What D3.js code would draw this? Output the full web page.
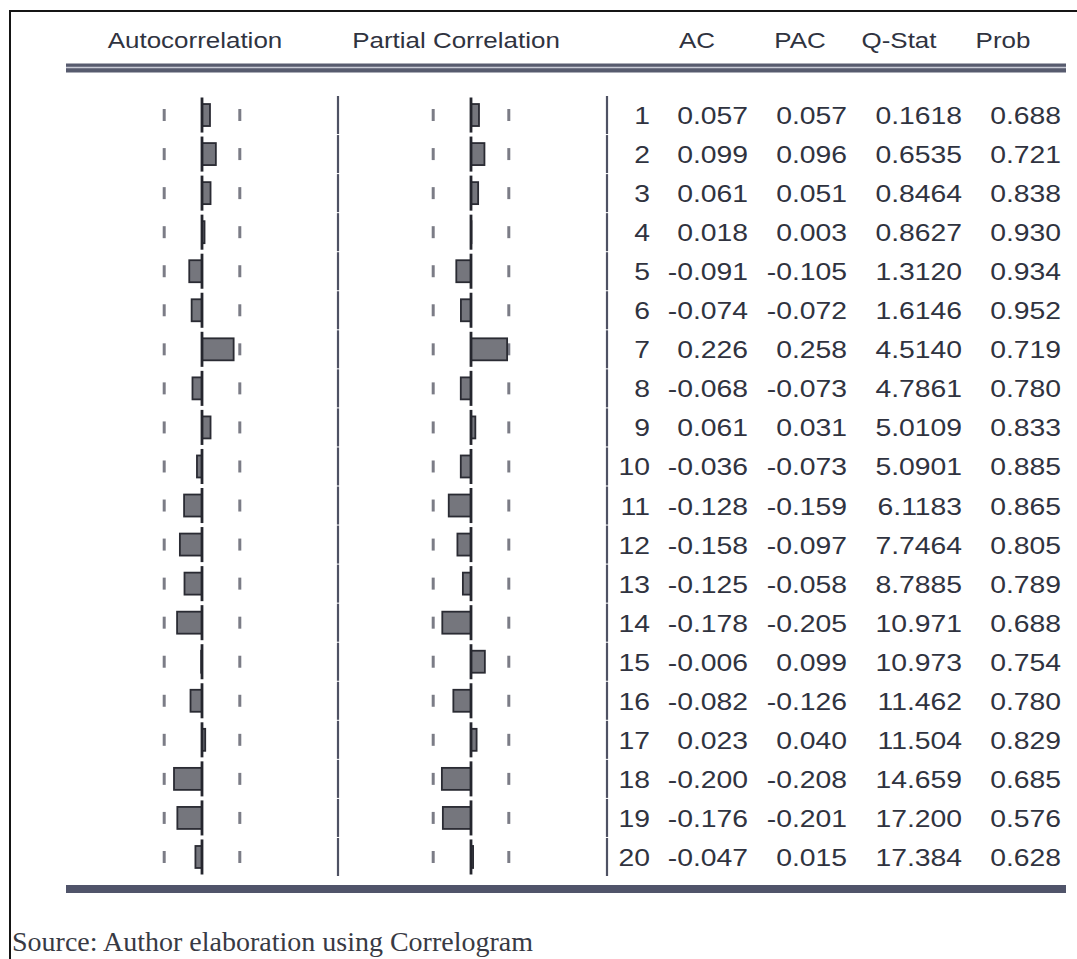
<!DOCTYPE html>
<html>
<head>
<meta charset="utf-8">
<script src="https://cdn.jsdelivr.net/npm/d3@7"></script>
<style>
  body { margin: 0; background: #fff; }
  svg { display: block; }
  .sans { font-family: "Liberation Sans", Arial, sans-serif; fill: #30333f; }
  .serif { font-family: "Liberation Serif", "Times New Roman", serif; fill: #383a44; }
</style>
</head>
<body>
<svg width="1077" height="959"></svg>
<script>
var lags = [1, 2, 3, 4, 5, 6, 7, 8, 9, 10, 11, 12, 13, 14, 15, 16, 17, 18, 19, 20];
var acValues = [0.057, 0.099, 0.061, 0.018, -0.091, -0.074, 0.226, -0.068, 0.061, -0.036,
                -0.128, -0.158, -0.125, -0.178, -0.006, -0.082, 0.023, -0.200, -0.176, -0.047];
var pacValues = [0.057, 0.096, 0.051, 0.003, -0.105, -0.072, 0.258, -0.073, 0.031, -0.073,
                 -0.159, -0.097, -0.058, -0.205, 0.099, -0.126, 0.040, -0.208, -0.201, 0.015];
var qStat = [0.1618, 0.6535, 0.8464, 0.8627, 1.3120, 1.6146, 4.5140, 4.7861, 5.0109, 5.0901,
             6.1183, 7.7464, 8.7885, 10.971, 10.973, 11.462, 11.504, 14.659, 17.200, 17.384];
var probValues = [0.688, 0.721, 0.838, 0.930, 0.934, 0.952, 0.719, 0.780, 0.833, 0.885,
                  0.865, 0.805, 0.789, 0.688, 0.754, 0.780, 0.829, 0.685, 0.576, 0.628];
var bandLimit = 0.27;   // approx. 2/sqrt(n) bound shown as dashes
var headers = ["Autocorrelation", "Partial Correlation", "AC", "PAC", "Q-Stat", "Prob"];
var source = "Source: Author elaboration using Correlogram";

var svg = d3.select("svg");
var rows = lags.map(function(d, i) {
  return { lag: d, ac: acValues[i], pac: pacValues[i], q: qStat[i], prob: probValues[i] };
});

var loc = d3.formatLocale({ decimal: ".", thousands: ",", grouping: [3], currency: ["", ""], minus: "-" });
var f3 = loc.format(".3f"), f4 = loc.format(".4f");

var y = d3.scaleBand().domain(lags).range([95.5, 876.5]);
function cy(d) { return y(d) + y.bandwidth() / 2; }

var xAC = d3.scaleLinear().domain([-0.5, 0.5]).range([132, 272]);
var xPAC = d3.scaleLinear().domain([-0.5, 0.5]).range([401, 541]);
var stretch = 1.18;

// frame
svg.append("rect")
    .attr("x", 10).attr("y", 11)
    .attr("width", 1100).attr("height", 1000)
    .attr("fill", "none")
    .attr("stroke", "#151515")
    .attr("stroke-width", 2);

// header
var headX = [195, 456, 697, 800, 899, 1003];
svg.append("g").selectAll("text")
    .data(headers)
    .enter().append("text")
    .attr("class", "sans")
    .attr("text-anchor", "middle")
    .attr("font-size", 22)
    .attr("transform", function(d, i) { return "translate(" + headX[i] + ",48) scale(" + stretch + ",1)"; })
    .text(function(d) { return d; });

svg.append("line")
    .attr("x1", 66).attr("x2", 1066).attr("y1", 68).attr("y2", 68)
    .attr("stroke", "#575b6e").attr("stroke-width", 9);
svg.append("line")
    .attr("x1", 66).attr("x2", 1066).attr("y1", 67.5).attr("y2", 67.5)
    .attr("stroke", "#c9cbd6").attr("stroke-width", 1.5);

svg.append("line")
    .attr("x1", 66).attr("x2", 1066).attr("y1", 889).attr("y2", 889)
    .attr("stroke", "#50546a").attr("stroke-width", 8);

// correlogram panels
function panel(x, key) {
  var g = svg.append("g");

  // bound dashes
  [-bandLimit, bandLimit].forEach(function(b) {
    g.append("g").selectAll("line")
        .data(rows)
        .enter().append("line")
        .attr("x1", x(b)).attr("x2", x(b))
        .attr("y1", function(d) { return cy(d.lag) - 6; })
        .attr("y2", function(d) { return cy(d.lag) + 6; })
        .attr("stroke", "#7b7c86")
        .attr("stroke-width", 3);
  });

  g.append("g").selectAll("rect")
      .data(rows)
      .enter().append("rect")
      .attr("x", function(d) { return Math.min(x(0), x(d[key])); })
      .attr("width", function(d) { return Math.abs(x(d[key]) - x(0)); })
      .attr("y", function(d) { return cy(d.lag) - 11; })
      .attr("height", 22)
      .attr("fill", "#75767d")
      .attr("stroke", "#2a2b33")
      .attr("stroke-width", 1.8);

  // zero line, one dash per row
  g.append("g").selectAll("line")
      .data(rows)
      .enter().append("line")
      .attr("x1", x(0)).attr("x2", x(0))
      .attr("y1", function(d) { return y(d.lag) + 2; })
      .attr("y2", function(d) { return y(d.lag) + y.bandwidth() - 2; })
      .attr("stroke", "#25262e")
      .attr("stroke-width", 2.8);
}
panel(xAC, "ac");
panel(xPAC, "pac");

// dividers
[338, 607].forEach(function(xp) {
  svg.append("g").selectAll("line")
      .data(rows)
      .enter().append("line")
      .attr("x1", xp).attr("x2", xp)
      .attr("y1", function(d) { return y(d.lag) + 0.5; })
      .attr("y2", function(d) { return y(d.lag) + y.bandwidth() - 0.5; })
      .attr("stroke", "#4f5264")
      .attr("stroke-width", 2.2);
});

// table columns
var cols = [
  { x: 650, fmt: function(d) { return String(d.lag); } },
  { x: 748, fmt: function(d) { return f3(d.ac); } },
  { x: 847, fmt: function(d) { return f3(d.pac); } },
  { x: 962, fmt: function(d) { return d.q < 10 ? f4(d.q) : f3(d.q); } },
  { x: 1061, fmt: function(d) { return f3(d.prob); } }
];
cols.forEach(function(c) {
  svg.append("g").selectAll("text")
      .data(rows)
      .enter().append("text")
      .attr("class", "sans")
      .attr("text-anchor", "end")
      .attr("font-size", 24)
      .attr("transform", function(d) { return "translate(" + c.x + "," + (cy(d.lag) + 9) + ") scale(" + stretch + ",1)"; })
      .text(c.fmt);
});

svg.append("text")
    .attr("class", "serif")
    .attr("x", 12).attr("y", 951)
    .attr("font-size", 28)
    .text(source);
</script>
</body>
</html>
